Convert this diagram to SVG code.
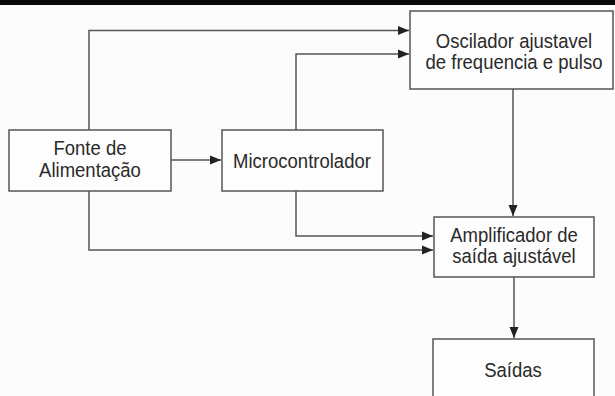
<svg xmlns="http://www.w3.org/2000/svg" width="615" height="396" viewBox="0 0 615 396">
<style>
.box{fill:#fdfdfd;stroke:#555;stroke-width:1.5}
.t{font-family:"Liberation Sans",Arial,sans-serif;font-size:19.5px;fill:#2a2a2a;text-anchor:middle}
.c{fill:none;stroke:#555;stroke-width:1.5}
</style>
<defs>
<marker id="a" markerWidth="12" markerHeight="10" refX="11" refY="5" orient="auto" markerUnits="userSpaceOnUse">
<path d="M0,0.5 L11,5 L0,9.5 Z" fill="#222"/>
</marker>
</defs>
<rect width="615" height="396" fill="#fcfcfc"/>
<rect width="615" height="5" fill="#0a0a0a"/>
<g id="connectors">
<path class="c" d="M89,130 V30.5 H409" marker-end="url(#a)"/>
<path class="c" d="M296,130 V54 H409" marker-end="url(#a)"/>
<path class="c" d="M171,160 H221" marker-end="url(#a)"/>
<path class="c" d="M513,89 V216" marker-end="url(#a)"/>
<path class="c" d="M296,191 V236 H433" marker-end="url(#a)"/>
<path class="c" d="M89,191 V250 H433" marker-end="url(#a)"/>
<path class="c" d="M514,277 V338" marker-end="url(#a)"/>
</g>
<g id="oscilador">
<rect class="box" x="410" y="11" width="203" height="78"/>
<text class="t" transform="translate(514,47.5) scale(0.95,1)">Oscilador ajustavel</text>
<text class="t" transform="translate(514,68.5) scale(0.95,1)">de frequencia e pulso</text>
</g>
<g id="fonte">
<rect class="box" x="9" y="130" width="162" height="61"/>
<text class="t" transform="translate(90,155) scale(0.95,1)">Fonte de</text>
<text class="t" transform="translate(90,177) scale(0.95,1)">Alimentação</text>
</g>
<g id="micro">
<rect class="box" x="222" y="130" width="161" height="61"/>
<text class="t" transform="translate(302,168) scale(0.95,1)">Microcontrolador</text>
</g>
<g id="amplificador">
<rect class="box" x="434" y="217" width="160" height="60"/>
<text class="t" transform="translate(514,241.5) scale(0.95,1)">Amplificador de</text>
<text class="t" transform="translate(514,262.5) scale(0.95,1)">saída ajustável</text>
</g>
<g id="saidas">
<rect class="box" x="433" y="339" width="161" height="70"/>
<text class="t" transform="translate(513,377) scale(0.95,1)">Saídas</text>
</g>
</svg>
